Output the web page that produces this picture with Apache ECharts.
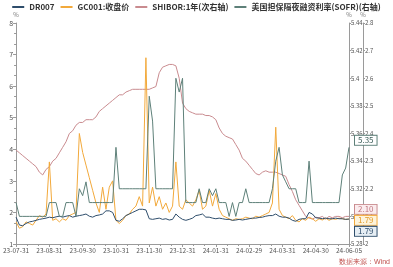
<!DOCTYPE html>
<html><head><meta charset="utf-8">
<script src="https://cdn.jsdelivr.net/npm/echarts@6/dist/echarts.min.js"></script>
<style>html,body{margin:0;padding:0;background:#fff}#c{width:393px;height:267px}</style>
</head><body><div id="c"></div>
<script>
const tickLabels = ['23-07-31','23-08-31','23-09-30','23-10-31','23-11-30','23-12-31','24-01-31','24-02-29','24-03-31','24-04-30','24-06-05'];
const seriesNames = ['DR007','GC001:收盘价','SHIBOR:1年(次右轴)','美国担保隔夜融资利率(SOFR)(右轴)'];
const dr007 = [
 1.85,1.6,1.58,1.65,1.7,1.72,1.75,1.78,1.8,1.82,
 1.85,1.83,1.86,1.88,1.85,1.88,1.9,1.85,1.88,1.9,
 1.92,1.95,1.88,1.85,1.9,1.92,1.95,2.05,2.05,2.0,
 1.75,1.72,1.8,1.9,1.95,2.0,2.05,2.1,2.1,2.08,
 1.8,1.78,1.8,1.82,1.78,1.8,1.76,1.78,1.95,1.85,
 1.78,1.75,1.78,1.82,1.9,1.92,1.95,1.85,1.85,1.82,
 1.8,1.82,1.8,1.78,1.78,1.75,1.76,1.78,1.76,1.78,
 1.8,1.82,1.82,1.84,1.85,1.88,1.9,1.9,1.95,1.88,
 1.85,1.85,1.82,1.75,1.72,1.78,1.8,1.8,2.0,1.95,
 1.83,1.82,1.8,1.82,1.8,1.8,1.82,1.8,1.8,1.78,
 1.79];
const gc001 = [
 1.7,1.5,1.55,1.7,1.65,1.6,1.75,1.9,1.85,1.95,
 3.6,1.75,1.8,1.7,1.8,1.75,1.9,1.95,2.0,4.5,
 3.9,3.5,3.1,2.7,2.3,2.0,2.8,2.1,2.8,3.0,
 1.75,1.65,1.75,1.9,1.95,2.1,2.2,2.5,2.2,6.9,
 2.3,2.8,2.2,2.5,2.1,2.3,2.0,2.2,3.6,2.2,
 2.1,2.4,2.3,2.2,2.4,2.7,2.1,2.2,2.7,2.2,
 2.6,2.1,1.9,1.85,1.8,1.75,1.8,1.78,1.8,1.85,
 1.82,1.8,1.88,1.85,1.9,1.95,2.0,2.3,4.7,2.1,
 1.9,1.85,1.8,1.9,1.75,1.7,1.8,1.75,1.85,1.8,
 1.72,1.8,1.76,1.82,1.75,1.8,1.78,1.82,1.8,1.78,
 1.79];
const shibor1y = [
 2.34,2.33,2.32,2.31,2.30,2.29,2.28,2.26,2.25,2.27,
 2.28,2.30,2.31,2.33,2.35,2.37,2.40,2.41,2.43,2.44,
 2.44,2.45,2.45,2.45,2.46,2.48,2.49,2.50,2.51,2.52,
 2.53,2.54,2.54,2.55,2.555,2.56,2.56,2.56,2.56,2.56,
 2.56,2.565,2.57,2.62,2.64,2.645,2.65,2.65,2.645,2.60,
 2.51,2.49,2.48,2.475,2.47,2.47,2.47,2.465,2.465,2.46,
 2.45,2.42,2.40,2.39,2.385,2.38,2.36,2.34,2.31,2.30,
 2.285,2.27,2.255,2.25,2.26,2.265,2.26,2.26,2.26,2.255,
 2.25,2.245,2.215,2.19,2.16,2.14,2.12,2.10,2.094,2.09,
 2.097,2.095,2.10,2.09,2.10,2.095,2.10,2.10,2.095,2.10,
 2.10];
const sofr = [
 5.31,5.30,5.30,5.30,5.30,5.30,5.30,5.30,5.30,5.30,
 5.31,5.31,5.31,5.30,5.30,5.31,5.31,5.31,5.30,5.32,
 5.315,5.325,5.31,5.31,5.31,5.31,5.31,5.31,5.31,5.31,
 5.35,5.32,5.32,5.32,5.32,5.32,5.32,5.32,5.32,5.32,
 5.387,5.369,5.32,5.32,5.32,5.32,5.32,5.32,5.40,5.39,
 5.40,5.31,5.31,5.31,5.31,5.32,5.31,5.31,5.32,5.315,
 5.32,5.31,5.31,5.31,5.30,5.31,5.30,5.31,5.31,5.32,
 5.31,5.31,5.31,5.31,5.31,5.31,5.31,5.32,5.34,5.35,
 5.33,5.325,5.32,5.32,5.32,5.31,5.31,5.31,5.34,5.31,
 5.31,5.31,5.31,5.31,5.31,5.31,5.31,5.31,5.33,5.335,
 5.35];

const colors = ['#2e4d6b','#f2a93b','#c98b8f','#5e8079'];
const labelBg = ['#e6eef4','#fdf4dc','#fbecee','#ffffff'];
const labelText = ['#2e4d6b','#e39a25','#c07880','#3d5f5a'];
const pairs = arr => arr.map((v,i)=>[i,v]);
const font = '"Noto Sans CJK SC","Noto Sans",sans-serif';

function mk(i, data, yIdx, z){
  return {
    name: seriesNames[i], type:'line', yAxisIndex:yIdx, data:pairs(data), z:z,
    symbol:'none', smooth:false, color:colors[i],
    lineStyle:{width:1, color:colors[i]},
    endLabel:{show:true, formatter:p=>p.value[1].toFixed(2), fontSize:8, fontFamily:font,
      color:labelText[i], backgroundColor:labelBg[i], borderColor:colors[i], borderWidth:1,
      padding:[1,3,0,3], distance:6, offset:[0,-7]},
    labelLayout:{moveOverlap:'shiftY'},
    labelLine:{show:true, lineStyle:{color:colors[i], width:1}}
  };
}

const chart = echarts.init(document.getElementById('c'));
const axisCol = '#9a9a9a';
chart.setOption({
  animation:false,
  textStyle:{fontFamily:font},
  legend:{top:-2, left:'center', icon:'rect', itemWidth:12, itemHeight:2, itemGap:6,
    textStyle:{fontSize:8, color:'#333', fontWeight:'bold', fontFamily:font}, data:seriesNames},
  grid:{left:16, right:44, top:23, bottom:23},
  xAxis:{type:'value', min:0, max:100, interval:10,
    axisLine:{lineStyle:{color:axisCol}}, axisTick:{length:3, lineStyle:{color:axisCol}},
    minorTick:{show:true, splitNumber:3, length:2, lineStyle:{color:axisCol}},
    splitLine:{show:false},
    axisLabel:{fontSize:6.5, color:'#555', margin:3, formatter:v=>tickLabels[Math.round(v/10)]}},
  yAxis:[
    {type:'value', min:1, max:8, interval:1, position:'left', name:'%', nameGap:5,
     nameTextStyle:{fontSize:6, color:'#777', align:'center'},
     axisLine:{show:true, lineStyle:{color:axisCol}}, axisTick:{show:true, length:3, lineStyle:{color:axisCol}},
     minorTick:{show:true, splitNumber:3, length:2, lineStyle:{color:axisCol}},
     splitLine:{show:false}, axisLabel:{fontSize:7, color:'#555', margin:3}},
    {type:'value', min:5.28, max:5.44, interval:0.02, position:'right', offset:0, name:'%', nameGap:5,
     nameTextStyle:{fontSize:6, color:'#777', align:'center'},
     axisLine:{show:true, lineStyle:{color:axisCol}}, axisTick:{show:true, length:2, lineStyle:{color:axisCol}},
     splitLine:{show:false}, axisLabel:{fontSize:6, color:'#555', margin:2}},
    {type:'value', min:2, max:2.8, interval:0.1, position:'right', offset:14, name:'%', nameGap:5,
     nameTextStyle:{fontSize:6, color:'#777', align:'center'},
     axisLine:{show:true, lineStyle:{color:axisCol}}, axisTick:{show:true, length:2, lineStyle:{color:axisCol}},
     splitLine:{show:false}, axisLabel:{fontSize:6, color:'#555', margin:2}}
  ],
  graphic:[{type:'text', right:3, bottom:1, style:{text:'数据来源：Wind', fontSize:7, fill:'#c0504d', font:'7px '+font}}],
  series:[mk(2,shibor1y,2,2), mk(1,gc001,0,3), mk(0,dr007,0,4), mk(3,sofr,1,5)]
});
</script></body></html>
